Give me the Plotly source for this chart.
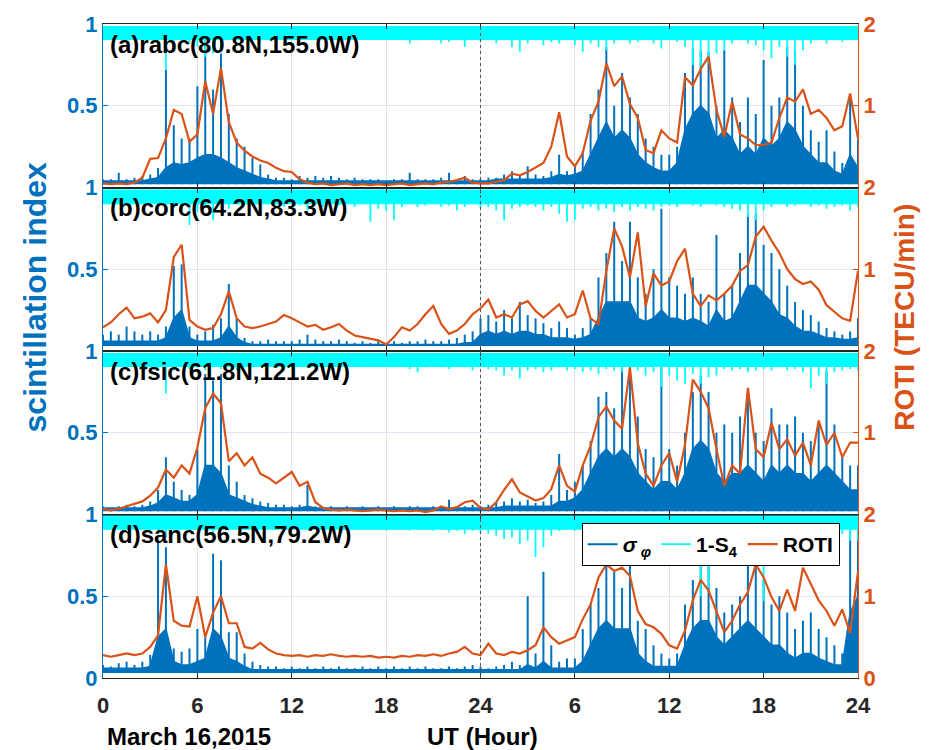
import plotly.graph_objects as go

# ---------------- data ----------------
HOURS = [0, 0.5, 1, 1.5, 2, 2.5, 3, 3.5, 4, 4.5, 5, 5.5,
         6, 6.5, 7, 7.5, 8, 8.5, 9, 9.5, 10, 10.5, 11, 11.5,
         12, 12.5, 13, 13.5, 14, 14.5, 15, 15.5, 16, 16.5, 17, 17.5,
         18, 18.5, 19, 19.5, 20, 20.5, 21, 21.5, 22, 22.5, 23, 23.5,
         24, 24.5, 25, 25.5, 26, 26.5, 27, 27.5, 28, 28.5, 29, 29.5,
         30, 30.5, 31, 31.5, 32, 32.5, 33, 33.5, 34, 34.5, 35, 35.5,
         36, 36.5, 37, 37.5, 38, 38.5, 39, 39.5, 40, 40.5, 41, 41.5,
         42, 42.5, 43, 43.5, 44, 44.5, 45, 45.5, 46, 46.5, 47, 47.5,
         48]

TICK_VALS = [0, 6, 12, 18, 24, 30, 36, 42, 48]
TICK_TEXT = ['0', '6', '12', '18', '24', '6', '12', '18', '24']

PANEL_LABELS = ['(a)rabc(80.8N,155.0W)', '(b)corc(64.2N,83.3W)',
                '(c)fsic(61.8N,121.2W)', '(d)sanc(56.5N,79.2W)']

# ROTI (TECU/min)
ROTI_A = [0.05, 0.04, 0.05, 0.04, 0.06, 0.12, 0.35, 0.36, 0.60, 0.95, 0.90, 0.56,
          0.65, 1.30, 0.90, 1.46, 0.80, 0.55, 0.45, 0.38, 0.33, 0.30, 0.24, 0.20,
          0.19, 0.10, 0.06, 0.04, 0.05, 0.03, 0.04, 0.05, 0.03, 0.04, 0.03, 0.04,
          0.03, 0.04, 0.05, 0.03, 0.04, 0.05, 0.04, 0.06, 0.07, 0.09, 0.12, 0.06,
          0.05, 0.05, 0.07, 0.09, 0.17, 0.15, 0.19, 0.24, 0.30, 0.50, 0.92, 0.38,
          0.26, 0.42, 0.82, 1.05, 1.52, 1.24, 1.36, 1.02, 0.85, 0.46, 0.42, 0.70,
          0.60, 0.55, 1.35, 1.25, 1.45, 1.60, 0.95, 0.62, 1.05, 0.65, 0.60, 0.52,
          0.52, 0.55, 0.85, 1.10, 1.05, 1.20, 0.90, 0.95, 0.85, 0.70, 0.75, 1.15,
          0.60]
ROTI_B = [0.29, 0.35, 0.45, 0.53, 0.40, 0.42, 0.46, 0.35, 0.50, 1.15, 1.30, 0.38,
          0.30, 0.26, 0.28, 0.45, 0.73, 0.40, 0.30, 0.28, 0.30, 0.33, 0.36, 0.44,
          0.40, 0.35, 0.30, 0.32, 0.26, 0.29, 0.33, 0.25, 0.19, 0.17, 0.15, 0.13,
          0.08, 0.17, 0.29, 0.25, 0.33, 0.45, 0.55, 0.33, 0.21, 0.25, 0.33, 0.45,
          0.52, 0.63, 0.41, 0.45, 0.41, 0.57, 0.61, 0.49, 0.41, 0.49, 0.57, 0.41,
          0.45, 0.74, 0.40, 0.33, 0.98, 1.50, 1.28, 0.90, 1.45, 0.55, 0.95, 0.80,
          0.85, 1.10, 1.25, 0.70, 0.55, 0.68, 0.62, 0.70, 0.80, 0.98, 1.05, 1.40,
          1.52, 1.35, 1.20, 1.00, 0.88, 0.82, 0.85, 0.75, 0.56, 0.48, 0.40, 0.37,
          0.98]
ROTI_C = [0.07, 0.05, 0.07, 0.10, 0.13, 0.16, 0.23, 0.33, 0.55, 0.45, 0.60, 0.50,
          0.82, 1.30, 1.48, 1.36, 0.65, 0.75, 0.60, 0.70, 0.50, 0.45, 0.38, 0.45,
          0.52, 0.35, 0.40, 0.15, 0.08, 0.06, 0.05, 0.06, 0.05, 0.04, 0.05, 0.06,
          0.05, 0.04, 0.05, 0.04, 0.05, 0.03, 0.05, 0.10, 0.07, 0.09, 0.15, 0.17,
          0.08, 0.06, 0.15, 0.30, 0.43, 0.27, 0.22, 0.17, 0.20, 0.31, 0.60, 0.35,
          0.28, 0.60, 0.84, 1.19, 1.32, 1.15, 1.05, 1.80, 0.87, 0.50, 0.35, 0.60,
          0.75, 0.40, 0.85, 1.65, 1.50, 1.30, 0.80, 0.35, 0.60, 0.50, 1.55, 0.80,
          0.70, 1.12, 0.80, 0.92, 0.72, 0.88, 0.60, 1.15, 0.85, 1.00, 0.70, 0.88,
          0.88]
ROTI_D = [0.28, 0.26, 0.28, 0.30, 0.28, 0.30, 0.38, 0.52, 1.39, 0.70, 0.64, 0.63,
          1.00, 0.50, 0.80, 1.00, 0.67, 0.67, 0.38, 0.36, 0.43, 0.35, 0.30, 0.28,
          0.27, 0.28, 0.26, 0.28, 0.27, 0.29, 0.27, 0.26, 0.27, 0.26, 0.27, 0.25,
          0.26, 0.25, 0.27, 0.26, 0.28, 0.27, 0.29, 0.27, 0.30, 0.32, 0.38, 0.30,
          0.28, 0.42, 0.30, 0.28, 0.32, 0.30, 0.34, 0.40, 0.62, 0.50, 0.42, 0.46,
          0.50, 0.72, 0.90, 1.23, 1.39, 1.31, 1.35, 1.25, 0.82, 0.66, 0.62, 0.54,
          0.40, 0.36, 0.58, 0.95, 1.20, 1.07, 0.82, 0.56, 0.70, 0.90, 1.05, 1.39,
          1.23, 0.99, 0.82, 1.08, 0.82, 1.35, 1.15, 0.95, 0.82, 0.64, 0.84, 0.55,
          1.30]

# sigma_phi: spike tops
SIG_HI_A = [0.05, 0.05, 0.09, 0.05, 0.06, 0.07, 0.08, 0.12, 0.72, 0.38, 0.30, 0.30,
            0.62, 0.90, 0.60, 0.82, 0.45, 0.30, 0.25, 0.18, 0.14, 0.08, 0.06, 0.06,
            0.05, 0.07, 0.06, 0.07, 0.06, 0.07, 0.06, 0.05, 0.06, 0.05, 0.05, 0.05,
            0.04, 0.05, 0.05, 0.09, 0.05, 0.05, 0.05, 0.06, 0.09, 0.05, 0.07, 0.05,
            0.05, 0.06, 0.06, 0.08, 0.10, 0.08, 0.13, 0.08, 0.07, 0.10, 0.20, 0.10,
            0.14, 0.22, 0.45, 0.60, 0.86, 0.50, 0.70, 0.55, 0.45, 0.30, 0.25, 0.20,
            0.20, 0.25, 0.70, 0.85, 0.84, 0.83, 0.50, 0.84, 0.55, 0.40, 0.55, 0.45,
            0.78, 0.50, 0.55, 0.86, 0.84, 0.50, 0.35, 0.28, 0.35, 0.22, 0.15, 0.55,
            0.30]
SIG_HI_B = [0.10, 0.12, 0.10, 0.15, 0.12, 0.10, 0.12, 0.10, 0.15, 0.52, 0.53, 0.15,
            0.10, 0.12, 0.16, 0.20, 0.41, 0.20, 0.08, 0.06, 0.06, 0.07, 0.06, 0.06,
            0.06, 0.07, 0.10, 0.07, 0.06, 0.06, 0.07, 0.06, 0.05, 0.06, 0.05, 0.06,
            0.05, 0.06, 0.05, 0.06, 0.06, 0.07, 0.06, 0.06, 0.07, 0.08, 0.10, 0.12,
            0.20, 0.22, 0.18, 0.25, 0.20, 0.30, 0.22, 0.20, 0.17, 0.14, 0.18, 0.14,
            0.10, 0.14, 0.20, 0.45, 0.60, 0.79, 0.55, 0.79, 0.45, 0.35, 0.50, 0.87,
            0.45, 0.40, 0.35, 0.45, 0.35, 0.30, 0.71, 0.35, 0.40, 0.60, 0.84, 0.84,
            0.65, 0.60, 0.50, 0.40, 0.30, 0.25, 0.22, 0.18, 0.14, 0.12, 0.10, 0.12,
            0.20]
SIG_HI_C = [0.05, 0.04, 0.05, 0.06, 0.05, 0.06, 0.08, 0.15, 0.35, 0.20, 0.15, 0.12,
            0.40, 0.86, 0.82, 0.86, 0.30, 0.20, 0.12, 0.10, 0.08, 0.07, 0.06, 0.06,
            0.05, 0.06, 0.18, 0.05, 0.04, 0.05, 0.04, 0.05, 0.04, 0.05, 0.04, 0.05,
            0.04, 0.05, 0.04, 0.05, 0.05, 0.04, 0.05, 0.05, 0.09, 0.05, 0.05, 0.06,
            0.05, 0.06, 0.07, 0.08, 0.10, 0.08, 0.09, 0.07, 0.08, 0.12, 0.37, 0.15,
            0.20, 0.30, 0.45, 0.72, 0.75, 0.65, 0.97, 0.90, 0.60, 0.40, 0.35, 0.95,
            0.40, 0.30, 0.50, 0.75, 0.85, 0.75, 0.50, 0.55, 0.50, 0.60, 0.75, 0.50,
            0.45, 0.65, 0.55, 0.55, 0.60, 0.50, 0.45, 0.55, 0.88, 0.55, 0.35, 0.30,
            0.30]
SIG_HI_D = [0.08, 0.07, 0.09, 0.10, 0.08, 0.10, 0.14, 0.84, 0.80, 0.18, 0.16, 0.18,
            0.30, 0.25, 0.76, 0.72, 0.28, 0.28, 0.15, 0.10, 0.08, 0.07, 0.07, 0.06,
            0.07, 0.06, 0.07, 0.06, 0.07, 0.06, 0.07, 0.06, 0.06, 0.07, 0.06, 0.07,
            0.06, 0.07, 0.06, 0.07, 0.06, 0.07, 0.06, 0.06, 0.07, 0.06, 0.07, 0.08,
            0.07, 0.06, 0.07, 0.08, 0.10, 0.08, 0.50, 0.15, 0.65, 0.20, 0.10, 0.12,
            0.12, 0.30, 0.45, 0.55, 0.80, 0.65, 0.55, 0.75, 0.35, 0.30, 0.20, 0.15,
            0.12, 0.15, 0.45, 0.60, 0.90, 0.95, 0.55, 0.40, 0.45, 0.50, 0.95, 0.70,
            0.60, 0.45, 0.50, 0.40, 0.30, 0.35, 0.40, 0.30, 0.25, 0.20, 0.15, 0.90,
            0.95]

# sigma_phi: top of the dense mass of curves
SIG_MID_A = [0.04, 0.04, 0.04, 0.04, 0.04, 0.04, 0.05, 0.06, 0.12, 0.15, 0.14, 0.15,
             0.18, 0.20, 0.20, 0.18, 0.15, 0.12, 0.10, 0.08, 0.06, 0.05, 0.04, 0.04,
             0.04, 0.04, 0.04, 0.04, 0.04, 0.04, 0.04, 0.04, 0.04, 0.04, 0.04, 0.04,
             0.04, 0.04, 0.04, 0.04, 0.04, 0.04, 0.04, 0.04, 0.04, 0.04, 0.04, 0.04,
             0.04, 0.04, 0.05, 0.05, 0.05, 0.05, 0.05, 0.05, 0.05, 0.06, 0.08, 0.07,
             0.08, 0.10, 0.20, 0.30, 0.40, 0.30, 0.35, 0.30, 0.20, 0.15, 0.12, 0.10,
             0.10, 0.15, 0.35, 0.45, 0.50, 0.45, 0.30, 0.35, 0.30, 0.20, 0.25, 0.20,
             0.30, 0.25, 0.30, 0.40, 0.35, 0.25, 0.20, 0.15, 0.15, 0.10, 0.08, 0.20,
             0.12]
SIG_MID_B = [0.06, 0.06, 0.06, 0.06, 0.06, 0.06, 0.06, 0.06, 0.08, 0.20, 0.25, 0.08,
             0.06, 0.06, 0.06, 0.08, 0.15, 0.08, 0.05, 0.04, 0.04, 0.04, 0.04, 0.04,
             0.04, 0.04, 0.04, 0.04, 0.04, 0.04, 0.04, 0.04, 0.04, 0.04, 0.04, 0.04,
             0.04, 0.04, 0.04, 0.04, 0.04, 0.04, 0.04, 0.04, 0.04, 0.04, 0.05, 0.05,
             0.10, 0.12, 0.10, 0.12, 0.10, 0.12, 0.12, 0.10, 0.10, 0.08, 0.08, 0.08,
             0.07, 0.08, 0.10, 0.20, 0.30, 0.30, 0.30, 0.30, 0.20, 0.18, 0.20, 0.25,
             0.20, 0.20, 0.18, 0.20, 0.18, 0.15, 0.25, 0.18, 0.20, 0.30, 0.40, 0.40,
             0.35, 0.30, 0.22, 0.20, 0.15, 0.12, 0.12, 0.10, 0.08, 0.08, 0.07, 0.07,
             0.08]
SIG_MID_C = [0.04, 0.04, 0.04, 0.04, 0.04, 0.04, 0.05, 0.07, 0.12, 0.10, 0.08, 0.08,
             0.12, 0.30, 0.30, 0.25, 0.12, 0.10, 0.08, 0.06, 0.05, 0.04, 0.04, 0.04,
             0.04, 0.04, 0.05, 0.04, 0.04, 0.04, 0.04, 0.04, 0.04, 0.04, 0.04, 0.04,
             0.04, 0.04, 0.04, 0.04, 0.04, 0.04, 0.04, 0.04, 0.04, 0.04, 0.04, 0.04,
             0.04, 0.04, 0.04, 0.05, 0.05, 0.05, 0.05, 0.05, 0.05, 0.05, 0.08, 0.08,
             0.10, 0.15, 0.25, 0.35, 0.40, 0.35, 0.40, 0.35, 0.25, 0.20, 0.15, 0.20,
             0.20, 0.15, 0.25, 0.40, 0.45, 0.40, 0.25, 0.20, 0.25, 0.25, 0.30, 0.25,
             0.20, 0.30, 0.25, 0.30, 0.25, 0.25, 0.20, 0.25, 0.30, 0.25, 0.20, 0.15,
             0.15]
SIG_MID_D = [0.06, 0.06, 0.06, 0.06, 0.06, 0.06, 0.07, 0.25, 0.30, 0.10, 0.08, 0.08,
             0.10, 0.12, 0.30, 0.25, 0.12, 0.10, 0.07, 0.05, 0.05, 0.05, 0.05, 0.05,
             0.05, 0.05, 0.05, 0.05, 0.05, 0.05, 0.05, 0.05, 0.05, 0.05, 0.05, 0.05,
             0.05, 0.05, 0.05, 0.05, 0.05, 0.05, 0.05, 0.05, 0.05, 0.05, 0.05, 0.05,
             0.05, 0.05, 0.05, 0.05, 0.05, 0.05, 0.08, 0.06, 0.10, 0.06, 0.06, 0.06,
             0.06, 0.10, 0.20, 0.30, 0.35, 0.30, 0.30, 0.30, 0.15, 0.10, 0.07, 0.07,
             0.07, 0.07, 0.20, 0.30, 0.35, 0.35, 0.25, 0.20, 0.25, 0.30, 0.35, 0.30,
             0.25, 0.20, 0.20, 0.15, 0.12, 0.15, 0.15, 0.12, 0.10, 0.08, 0.08, 0.40,
             0.50]

# 1-S4: lowest excursion of the band at each sample
S4_LO_A = [0.92, 0.92, 0.91, 0.92, 0.91, 0.90, 0.90, 0.88, 0.72, 0.85, 0.90, 0.88,
           0.86, 0.80, 0.82, 0.85, 0.90, 0.90, 0.92, 0.91, 0.92, 0.90, 0.92, 0.91,
           0.92, 0.89, 0.91, 0.90, 0.92, 0.92, 0.93, 0.92, 0.92, 0.91, 0.92, 0.93,
           0.92, 0.91, 0.90, 0.88, 0.90, 0.91, 0.90, 0.88, 0.89, 0.90, 0.86, 0.90,
           0.89, 0.90, 0.88, 0.90, 0.86, 0.83, 0.88, 0.90, 0.87, 0.89, 0.88, 0.90,
           0.87, 0.83, 0.88, 0.86, 0.84, 0.88, 0.90, 0.88, 0.89, 0.90, 0.88, 0.85,
           0.90, 0.89, 0.86, 0.75, 0.74, 0.76, 0.82, 0.84, 0.88, 0.90, 0.88, 0.87,
           0.84, 0.79, 0.86, 0.80, 0.75, 0.84, 0.88, 0.90, 0.88, 0.90, 0.89, 0.90,
           0.90]
S4_LO_B = [0.92, 0.91, 0.90, 0.92, 0.91, 0.90, 0.92, 0.89, 0.90, 0.88, 0.86, 0.77,
           0.85, 0.88, 0.80, 0.90, 0.87, 0.90, 0.91, 0.90, 0.89, 0.90, 0.91, 0.88,
           0.90, 0.89, 0.86, 0.90, 0.88, 0.84, 0.89, 0.90, 0.88, 0.90, 0.79, 0.87,
           0.86, 0.80, 0.88, 0.90, 0.88, 0.89, 0.90, 0.88, 0.89, 0.86, 0.88, 0.90,
           0.87, 0.88, 0.86, 0.80, 0.87, 0.88, 0.89, 0.88, 0.86, 0.88, 0.84, 0.79,
           0.80, 0.87, 0.88, 0.86, 0.87, 0.85, 0.88, 0.86, 0.88, 0.87, 0.86, 0.88,
           0.89, 0.88, 0.90, 0.89, 0.88, 0.90, 0.89, 0.88, 0.87, 0.86, 0.82, 0.80,
           0.86, 0.88, 0.90, 0.88, 0.89, 0.90, 0.88, 0.89, 0.87, 0.88, 0.89, 0.86,
           0.88]
S4_LO_C = [0.92, 0.91, 0.92, 0.90, 0.91, 0.92, 0.90, 0.88, 0.74, 0.88, 0.90, 0.89,
           0.90, 0.88, 0.90, 0.89, 0.91, 0.88, 0.90, 0.91, 0.92, 0.91, 0.90, 0.91,
           0.90, 0.92, 0.91, 0.90, 0.92, 0.91, 0.92, 0.91, 0.92, 0.90, 0.91, 0.92,
           0.91, 0.90, 0.92, 0.89, 0.87, 0.90, 0.91, 0.90, 0.89, 0.91, 0.90, 0.88,
           0.90, 0.89, 0.88, 0.85, 0.88, 0.83, 0.88, 0.89, 0.87, 0.88, 0.90, 0.88,
           0.89, 0.87, 0.88, 0.86, 0.89, 0.88, 0.87, 0.89, 0.88, 0.85, 0.87, 0.78,
           0.85, 0.82, 0.80, 0.86, 0.80, 0.84, 0.85, 0.89, 0.88, 0.89, 0.87, 0.88,
           0.89, 0.88, 0.90, 0.88, 0.89, 0.87, 0.77, 0.85, 0.80, 0.87, 0.88, 0.89,
           0.88]
S4_LO_D = [0.93, 0.92, 0.93, 0.92, 0.93, 0.92, 0.91, 0.90, 0.86, 0.90, 0.91, 0.92,
           0.91, 0.90, 0.89, 0.91, 0.92, 0.91, 0.92, 0.93, 0.92, 0.93, 0.92, 0.93,
           0.92, 0.93, 0.92, 0.91, 0.92, 0.93, 0.92, 0.91, 0.92, 0.93, 0.92, 0.91,
           0.90, 0.92, 0.91, 0.90, 0.92, 0.91, 0.90, 0.91, 0.89, 0.90, 0.88, 0.90,
           0.89, 0.88, 0.87, 0.85, 0.86, 0.82, 0.84, 0.74, 0.80, 0.87, 0.90, 0.91,
           0.90, 0.91, 0.90, 0.91, 0.90, 0.89, 0.90, 0.91, 0.90, 0.91, 0.90, 0.91,
           0.90, 0.91, 0.90, 0.88, 0.50, 0.55, 0.88, 0.90, 0.89, 0.90, 0.88, 0.80,
           0.47, 0.85, 0.90, 0.89, 0.90, 0.91, 0.90, 0.89, 0.90, 0.89, 0.88, 0.84,
           0.84]

SIG_BASE = [0.02, 0.03, 0.02, 0.03]      # floor of sigma_phi curves per panel
S4_TOP = [0.985, 0.985, 0.985, 0.99]     # top of the 1-S4 band
S4_BAND = [0.905, 0.90, 0.905, 0.91]     # bottom of the dense 1-S4 band

PANELS = [
    (ROTI_A, SIG_HI_A, SIG_MID_A, S4_LO_A),
    (ROTI_B, SIG_HI_B, SIG_MID_B, S4_LO_B),
    (ROTI_C, SIG_HI_C, SIG_MID_C, S4_LO_C),
    (ROTI_D, SIG_HI_D, SIG_MID_D, S4_LO_D),
]
for arrs in PANELS:
    for a in arrs:
        assert len(a) == len(HOURS), len(a)

# ---------------- styles ----------------
BLUE = '#0072BD'
CYAN = '#00FFFF'
ORANGE = '#D95319'
DARK = '#262626'
FONT = 'Liberation Sans, Arial, sans-serif'
DOMAINS = [(0.75, 1.0), (0.5, 0.75), (0.25, 0.5), (0.0, 0.25)]

fig = go.Figure()

for i, (roti, hi, mid, s4lo) in enumerate(PANELS):
    xr = 'x' if i == 0 else f'x{i+1}'
    yl = 'y' if i == 0 else f'y{i+1}'
    yr = f'y{i+5}'
    last = (i == 3)
    base = [SIG_BASE[i]] * len(HOURS)

    # sigma_phi : dense mass
    fig.add_trace(go.Scatter(x=HOURS, y=base, xaxis=xr, yaxis=yl, mode='lines',
                             line=dict(width=0, color=BLUE), showlegend=False,
                             hoverinfo='skip'))
    fig.add_trace(go.Scatter(x=HOURS, y=mid, xaxis=xr, yaxis=yl, mode='lines',
                             line=dict(width=1.5, color=BLUE), fill='tonexty',
                             fillcolor=BLUE, showlegend=False, hoverinfo='skip'))
    # sigma_phi : spikes
    sx, sy = [], []
    for t, h in zip(HOURS, hi):
        sx += [t, t, None]
        sy += [SIG_BASE[i], h, None]
    fig.add_trace(go.Scatter(x=sx, y=sy, xaxis=xr, yaxis=yl, mode='lines',
                             line=dict(width=2, color=BLUE),
                             name='<i>σ</i><sub> <i>φ</i></sub>',
                             showlegend=last, hoverinfo='skip'))

    # 1-S4 band
    top = [S4_TOP[i]] * len(HOURS)
    band = [S4_BAND[i]] * len(HOURS)
    fig.add_trace(go.Scatter(x=HOURS, y=top, xaxis=xr, yaxis=yl, mode='lines',
                             line=dict(width=1, color=CYAN), showlegend=False,
                             hoverinfo='skip'))
    fig.add_trace(go.Scatter(x=HOURS, y=band, xaxis=xr, yaxis=yl, mode='lines',
                             line=dict(width=1, color=CYAN), fill='tonexty',
                             fillcolor=CYAN, showlegend=False, hoverinfo='skip'))
    cx, cy = [], []
    for t, lo in zip(HOURS, s4lo):
        cx += [t, t, None]
        cy += [S4_TOP[i], lo, None]
    fig.add_trace(go.Scatter(x=cx, y=cy, xaxis=xr, yaxis=yl, mode='lines',
                             line=dict(width=1.8, color=CYAN),
                             name='1-S<sub>4</sub>', showlegend=last,
                             hoverinfo='skip'))

    # ROTI on right axis
    fig.add_trace(go.Scatter(x=HOURS, y=roti, xaxis=xr, yaxis=yr, mode='lines',
                             line=dict(width=2.2, color=ORANGE), name='ROTI',
                             showlegend=last, hoverinfo='skip'))

layout = dict(
    width=936, height=750,
    margin=dict(l=103, r=78, t=17, b=72),
    plot_bgcolor='white', paper_bgcolor='white',
    font=dict(family=FONT, size=22, color=DARK, weight='bold'),
    showlegend=True,
    legend=dict(orientation='h', x=0.634, y=0.237, xanchor='left', yanchor='top',
                traceorder='normal',
                bgcolor='white', bordercolor='#000000', borderwidth=1,
                font=dict(family=FONT, size=21, color='#000000', weight='bold'),
                itemwidth=30, tracegroupgap=0),
)

for i in range(4):
    xk = 'xaxis' if i == 0 else f'xaxis{i+1}'
    ylk = 'yaxis' if i == 0 else f'yaxis{i+1}'
    yrk = f'yaxis{i+5}'
    yl = 'y' if i == 0 else f'y{i+1}'
    xr = 'x' if i == 0 else f'x{i+1}'
    last = (i == 3)
    xa = dict(domain=[0, 1], anchor=yl, range=[0, 48],
              tickmode='array', tickvals=TICK_VALS, ticktext=TICK_TEXT,
              showticklabels=last, ticks='inside', ticklen=5, tickcolor=DARK,
              showline=True, linecolor=DARK, linewidth=1, mirror='ticks',
              showgrid=True, gridcolor='#e2e2e2', gridwidth=1, zeroline=False,
              tickfont=dict(family=FONT, size=22, color=DARK, weight='bold'),
              ticklabelstandoff=8)
    if i > 0:
        xa['matches'] = 'x'
    layout[xk] = xa
    layout[ylk] = dict(domain=list(DOMAINS[i]), anchor=xr, range=[0, 1],
                       tickmode='array',
                       tickvals=[0, 0.5, 1] if last else [0.5, 1],
                       ticktext=['0', '0.5', '1'] if last else ['0.5', '1'],
                       ticks='inside', ticklen=5, tickcolor=BLUE,
                       showline=True, linecolor=BLUE, linewidth=1,
                       showgrid=True, gridcolor='#dfe9f4', gridwidth=1,
                       zeroline=False,
                       tickfont=dict(family=FONT, size=22, color=BLUE, weight='bold'))
    layout[yrk] = dict(overlaying=yl, anchor=xr, side='right', range=[0, 2],
                       tickmode='array',
                       tickvals=[0, 1, 2] if last else [1, 2],
                       ticktext=['0', '1', '2'] if last else ['1', '2'],
                       ticks='inside', ticklen=5, tickcolor=ORANGE,
                       showline=True, linecolor=ORANGE, linewidth=1,
                       showgrid=False, zeroline=False,
                       tickfont=dict(family=FONT, size=22, color=ORANGE, weight='bold'))

fig.update_layout(**layout)

# dotted day boundary at 24 UT
fig.add_shape(type='line', xref='x', yref='paper', x0=24, x1=24, y0=0, y1=1,
              line=dict(color='#555555', width=1, dash='dot'), layer='above')

# panel labels
for i, lab in enumerate(PANEL_LABELS):
    fig.add_annotation(text=lab, xref='paper', yref='paper', x=0.006,
                       y=DOMAINS[i][1] - 0.031, xanchor='left', yanchor='middle',
                       showarrow=False,
                       font=dict(family=FONT, size=24, color='#000000', weight='bold'))

# axis titles and footer texts
fig.add_annotation(text='scintillation index', xref='paper', yref='paper',
                   x=-0.09, y=0.582, textangle=-90, showarrow=False,
                   xanchor='center', yanchor='middle',
                   font=dict(family=FONT, size=32, color=BLUE, weight='bold'))
fig.add_annotation(text='ROTI (TECU/min)', xref='paper', yref='paper',
                   x=1.062, y=0.552, textangle=-90, showarrow=False,
                   xanchor='center', yanchor='middle',
                   font=dict(family=FONT, size=28, color=ORANGE, weight='bold'))
fig.add_annotation(text='March 16,2015', xref='paper', yref='paper',
                   x=0.002, y=-0.089, xanchor='left', yanchor='middle',
                   showarrow=False,
                   font=dict(family=FONT, size=24, color='#000000', weight='bold'))
fig.add_annotation(text='UT (Hour)', xref='paper', yref='paper',
                   x=0.502, y=-0.089, xanchor='center', yanchor='middle',
                   showarrow=False,
                   font=dict(family=FONT, size=24, color='#000000', weight='bold'))

fig.write_html('out.html')
